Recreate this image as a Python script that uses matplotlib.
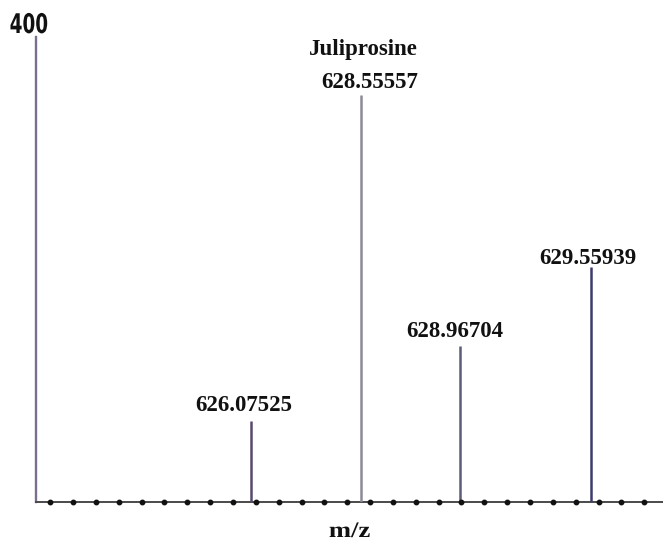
import numpy as np
import matplotlib
matplotlib.use("Agg")
import matplotlib.pyplot as plt
from matplotlib.patheffects import AbstractPathEffect
from matplotlib.transforms import Affine2D

# ---- data ----
mz_labels = ["626.07525", "628.55557", "628.96704", "629.55939"]
intensities = [70, 350, 134, 202]
# position of each peak along the (non-linear) m/z axis, in axis units
peak_pos = [9.41, 14.22, 18.56, 24.29]
compound_label = "Juliprosine"
compound_peak = 1
y_max = 400
x_label = "m/z"

peak_colors = ["#584a6e", "#8c8a98", "#5a5c78", "#3e3a6c"]
label_offsets = [(-7, 10), (9, 7), (-5, 9), (-3, 3)]


class Squeeze(AbstractPathEffect):
    """Scale glyph outlines horizontally around their own centre."""
    def __init__(self, sx):
        super().__init__()
        self.sx = sx

    def draw_path(self, renderer, gc, tpath, affine, rgbFace=None):
        v = tpath.vertices
        cx = (v[:, 0].min() + v[:, 0].max()) / 2 if len(v) else 0
        tr = Affine2D().translate(-cx, 0).scale(self.sx, 1).translate(cx, 0) + affine
        renderer.draw_path(gc, tpath, tr, rgbFace)


W, H = 663, 546
fig = plt.figure(figsize=(W / 100, H / 100), dpi=100)
ax = fig.add_axes([36 / W, 44 / H, 627 / W, 465 / H])
ax.set_xlim(0, 27.44)
ax.set_ylim(0, y_max)

for s in ("top", "right"):
    ax.spines[s].set_visible(False)
ax.spines["left"].set_color("#7a6f8f")
ax.spines["left"].set_linewidth(1.7)
ax.spines["bottom"].set_color("#4a4a4a")
ax.spines["bottom"].set_linewidth(1.4)
ax.set_xticks([])
ax.set_yticks([])

# tick dots along the m/z axis
dots = np.arange(0.62, 27.44, 1.0)
ax.plot(dots, np.zeros_like(dots), "o", color="#111111", ms=3.2, clip_on=False, zorder=4)

# peaks
ax.vlines(peak_pos, 0, intensities, colors=peak_colors, linewidth=1.8, zorder=3)

num_font = dict(family="Liberation Serif", weight="bold", size=16.5, color="#111111")
for x, y, lab, (dx, dy) in zip(peak_pos, intensities, mz_labels, label_offsets):
    ax.annotate(lab, xy=(x, y), xytext=(dx, dy), textcoords="offset pixels",
                ha="center", va="baseline", **num_font)

ax.annotate(compound_label, xy=(peak_pos[compound_peak], intensities[compound_peak]),
            xytext=(2, 40), textcoords="offset pixels", ha="center", va="baseline",
            family="Liberation Serif", weight="bold", size=16.5, color="#111111")

ax.annotate(str(y_max), xy=(0, y_max), xytext=(-7, 4), textcoords="offset pixels",
            ha="center", va="baseline", path_effects=[Squeeze(0.68)],
            family="DejaVu Sans", weight="bold", size=19.5, color="#111111",
            annotation_clip=False)

ax.annotate(x_label, xy=(0.5, 0), xycoords="axes fraction", xytext=(0, -35),
            textcoords="offset pixels", ha="center", va="baseline",
            path_effects=[Squeeze(1.2)], family="Liberation Serif", weight="bold",
            size=16, color="#111111", annotation_clip=False)

fig.savefig("out.png", dpi=100)
